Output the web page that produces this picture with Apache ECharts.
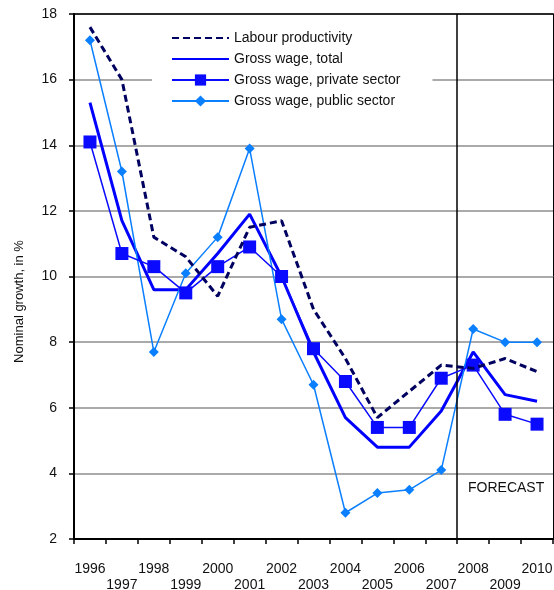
<!DOCTYPE html>
<html>
<head>
<meta charset="utf-8">
<script src="https://cdn.jsdelivr.net/npm/echarts@6/dist/echarts.min.js"></script>
<style>html,body{margin:0;padding:0;background:#fff}#c{width:554px;height:590px}</style>
</head>
<body>
<div id="c"></div>
<script>
var years = ['1996','1997','1998','1999','2000','2001','2002','2003','2004','2005','2006','2007','2008','2009','2010'];
var labourProductivity = [17.6, 16.0, 11.2, 10.6, 9.4, 11.5, 11.7, 9.0, 7.5, 5.7, 6.5, 7.3, 7.2, 7.5, 7.1];
var grossWageTotal     = [15.3, 11.7, 9.6, 9.6, 10.7, 11.9, 10.0, 7.7, 5.7, 4.8, 4.8, 5.9, 7.7, 6.4, 6.2];
var grossWagePrivate   = [14.1, 10.7, 10.3, 9.5, 10.3, 10.9, 10.0, 7.8, 6.8, 5.4, 5.4, 6.9, 7.3, 5.8, 5.5];
var grossWagePublic    = [17.2, 13.2, 7.7, 10.1, 11.2, 13.9, 8.7, 6.7, 2.8, 3.4, 3.5, 4.1, 8.4, 8.0, 8.0];
var seriesNames = ['Labour productivity', 'Gross wage, total', 'Gross wage, private sector', 'Gross wage, public sector'];
var forecastStart = 2007.5;
var forecastLabel = 'FORECAST';
var yTicks = {min: 2, max: 18, interval: 2};

var font = "'Liberation Sans', Arial, sans-serif";
var chart = echarts.init(document.getElementById('c'));
chart.setOption({
  animation: false,
  backgroundColor: '#fff',
  textStyle: {fontFamily: font},
  grid: {left: 74, right: 1, top: 14, bottom: 51, containLabel: false, outerBoundsMode: 'none'},
  legend: {
    left: 152, top: 26, orient: 'vertical',
    backgroundColor: '#fff',
    padding: [5, 32, 5, 19],
    itemWidth: 57, itemHeight: 14, itemGap: 7,
    textStyle: {fontSize: 14, color: '#111', fontFamily: font},
    data: [
      {name: seriesNames[0], itemStyle: {opacity: 0}},
      {name: seriesNames[1], itemStyle: {opacity: 0}},
      {name: seriesNames[2]},
      {name: seriesNames[3]}
    ]
  },
  xAxis: [{
    type: 'category', data: years, boundaryGap: true,
    axisLine: {lineStyle: {color: '#000', width: 2}},
    axisTick: {show: true, length: 5, lineStyle: {color: '#000', width: 1.5}},
    axisLabel: {
      color: '#111', fontSize: 14, margin: 22, lineHeight: 16, interval: 0,
      formatter: function (v, i) { return i % 2 ? '\n' + v : v; }
    },
    splitLine: {show: false}
  }, {
    type: 'value', position: 'top', min: 1995.5, max: 2010.5,
    axisLine: {show: true, lineStyle: {color: '#000', width: 1.5}},
    axisTick: {show: false}, axisLabel: {show: false}, splitLine: {show: false}
  }],
  yAxis: [{
    type: 'value', min: yTicks.min, max: yTicks.max, interval: yTicks.interval,
    name: 'Nominal growth, in %', nameLocation: 'middle', nameGap: 48,
    nameTextStyle: {fontSize: 13, color: '#111', padding: [0, 50, 0, 0]},
    axisLine: {show: true, lineStyle: {color: '#000', width: 2}},
    axisTick: {show: true, length: 5, lineStyle: {color: '#000', width: 1.5}},
    axisLabel: {color: '#111', fontSize: 14, margin: 17},
    splitLine: {show: true, lineStyle: {color: '#aaaaaa', width: 2}}
  }, {
    type: 'value', position: 'right', min: 0, max: 1,
    axisLine: {show: true, lineStyle: {color: '#000', width: 1}},
    axisTick: {show: false}, axisLabel: {show: false}, splitLine: {show: false}
  }],
  series: [
    {
      name: seriesNames[1], type: 'line', data: grossWageTotal, z: 3,
      symbol: 'none', color: '#0000ff',
      lineStyle: {color: '#0000ff', width: 3}
    },
    {
      name: seriesNames[3], type: 'line', data: grossWagePublic, z: 4,
      symbol: 'diamond', symbolSize: 10, color: '#0a7fff',
      itemStyle: {color: '#0a7fff'},
      lineStyle: {color: '#0a7fff', width: 1.5}
    },
    {
      name: seriesNames[2], type: 'line', data: grossWagePrivate, z: 5,
      symbol: 'rect', symbolSize: 13, color: '#0a0aff',
      itemStyle: {color: '#0a0aff'},
      lineStyle: {color: '#0a0aff', width: 1.5}
    },
    {
      name: seriesNames[0], type: 'line', data: labourProductivity, z: 6,
      symbol: 'none', color: '#000060',
      lineStyle: {color: '#000060', width: 3, type: [7, 4]}
    },
    {
      name: 'forecast', type: 'line', xAxisIndex: 1, yAxisIndex: 0, data: [], z: 2,
      markLine: {
        silent: true, symbol: 'none',
        lineStyle: {color: '#000', width: 1.5, type: 'solid'},
        label: {show: false},
        data: [{xAxis: forecastStart}]
      }
    }
  ],
  graphic: [{
    type: 'text', left: 468, top: 481,
    style: {text: forecastLabel, fontSize: 14, fill: '#111', fontFamily: font}
  }]
});
</script>
</body>
</html>
